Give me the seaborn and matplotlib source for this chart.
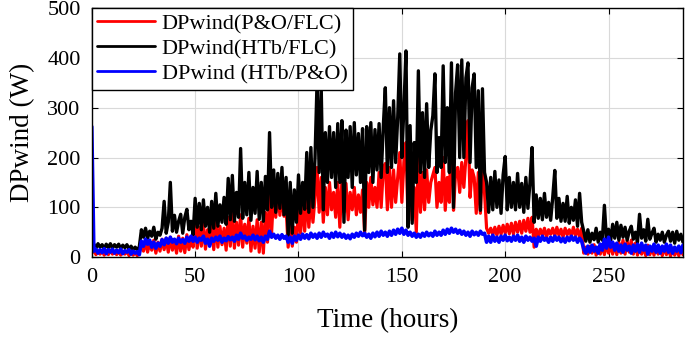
import matplotlib
matplotlib.use("Agg")
import matplotlib.pyplot as plt
import pandas as pd
import seaborn as sns

sns.set_theme(style="whitegrid")
plt.rcParams["font.family"] = ["Liberation Serif", "DejaVu Serif"]

HOURS = list(range(289))

# DPwind(P&O/FLC), one reading per hour
PO_FLC = [
    8, 14, 5, 12, 6, 13, 4, 12, 5, 14, 6, 11,
    5, 12, 4, 11, 6, 12, 3, 10, 4, 9, 3, 8,
    30, 12, 32, 10, 28, 14, 34, 8, 30, 12, 36, 15,
    38, 10, 40, 14, 35, 8, 42, 12, 38, 9, 45, 15,
    40, 20, 85, 18, 60, 22, 68, 16, 55, 24, 65, 15,
    72, 20, 62, 25, 58, 14, 80, 22, 88, 18, 70, 24,
    85, 20, 66, 28, 78, 12, 62, 18, 75, 10, 70, 8,
    90, 30, 124, 50, 130, 80, 140, 84, 120, 82, 100, 20,
    70, 22, 60, 30, 95, 48, 110, 52, 130, 60, 120, 70,
    120, 180, 90, 160, 70, 140, 85, 150, 95, 130, 80, 150,
    60, 154, 90, 148, 75, 130, 95, 140, 85, 125, 90, 135,
    48, 150, 100, 160, 105, 140, 100, 170, 100, 175, 188, 95,
    180, 100, 175, 110, 160, 210, 110, 190, 230, 70, 160, 74,
    140, 50, 200, 90, 170, 95, 175, 110, 150, 165, 180, 100,
    150, 110, 200, 94, 160, 110, 288, 94, 170, 180, 130, 190,
    140, 200, 274, 120, 175, 160, 88, 170, 88, 180, 130, 58,
    48, 58, 45, 60, 44, 62, 46, 64, 48, 66, 47, 68,
    46, 70, 50, 72, 48, 74, 52, 78, 50, 80, 20, 56,
    42, 56, 44, 58, 40, 55, 46, 58, 42, 60, 44, 56,
    40, 58, 45, 55, 42, 60, 44, 56, 40, 58, 8, 20,
    6, 22, 8, 25, 4, 20, 6, 24, 5, 28, 8, 24,
    6, 26, 5, 30, 8, 34, 6, 32, 10, 34, 6, 28,
    4, 22, 6, 20, 3, 24, 5, 18, 4, 20, 6, 18,
    3, 20, 5, 16, 2, 18, 4, 15, 3, 18, 5, 14,
    10,
]

# DPwind(HTb/FLC)
HTB_FLC = [
    22, 26, 18, 27, 20, 25, 17, 26, 19, 27, 18, 25,
    20, 26, 17, 24, 19, 25, 16, 22, 15, 20, 14, 21,
    55, 40, 58, 38, 52, 42, 60, 36, 50, 44, 58, 112,
    48, 70, 150, 52, 84, 50, 72, 86, 48, 80, 96, 55,
    72, 45, 118, 60, 108, 55, 115, 62, 100, 50, 112, 58,
    128, 62, 105, 70, 120, 66, 158, 75, 164, 72, 130, 80,
    218, 78, 150, 85, 170, 74, 140, 88, 172, 76, 150, 72,
    162, 95, 250, 100, 175, 90, 168, 98, 180, 85, 160, 44,
    150, 48, 135, 70, 165, 88, 150, 96, 210, 90, 220, 100,
    200, 355, 170, 340, 95, 250, 150, 262, 160, 250, 140, 268,
    150, 274, 70, 255, 160, 262, 140, 270, 165, 248, 150, 258,
    54, 262, 170, 270, 150, 256, 175, 268, 160, 260, 340, 170,
    300, 180, 314, 190, 280, 408, 200, 300, 414, 60, 264, 68,
    230, 150, 374, 170, 290, 160, 308, 180, 254, 284, 368, 170,
    240, 180, 384, 190, 300, 170, 390, 100, 330, 386, 200, 396,
    200, 360, 390, 190, 340, 368, 180, 334, 94, 338, 170, 150,
    90, 160, 95, 172, 100, 155, 88, 165, 202, 95, 160, 100,
    150, 95, 168, 100, 148, 90, 160, 98, 150, 220, 70, 125,
    78, 118, 75, 128, 80, 110, 74, 120, 174, 78, 118, 72,
    108, 72, 122, 68, 100, 74, 115, 62, 128, 70, 52, 32,
    55, 30, 48, 35, 58, 30, 50, 34, 104, 36, 56, 32,
    66, 38, 70, 34, 64, 40, 60, 34, 52, 62, 36, 50,
    30, 86, 38, 55, 32, 76, 36, 48, 58, 30, 46, 34,
    50, 30, 44, 52, 32, 50, 28, 52, 34, 46, 30, 44,
    38,
]

# DPwind (HTb/P&O)
HTB_PO = [
    262, 12, 16, 8, 15, 9, 17, 7, 15, 10, 16, 8,
    14, 9, 16, 7, 13, 10, 15, 6, 12, 8, 11, 5,
    32, 22, 36, 26, 34, 20, 30, 18, 28, 22, 35, 25,
    38, 28, 40, 30, 36, 27, 38, 30, 35, 28, 40, 32,
    42, 32, 40, 30, 38, 34, 42, 28, 36, 22, 38, 32,
    40, 34, 42, 30, 38, 33, 41, 35, 40, 32, 44, 36,
    48, 38, 42, 34, 40, 36, 44, 35, 42, 33, 40, 30,
    42, 36, 52, 40, 46, 38, 44, 36, 45, 38, 42, 30,
    40, 28, 42, 34, 44, 36, 46, 38, 45, 37, 48, 40,
    46, 38, 48, 40, 50, 42, 46, 38, 48, 40, 50, 41,
    48, 40, 46, 38, 44, 37, 46, 40, 48, 42, 50, 43,
    48, 40, 46, 38, 48, 41, 50, 42, 52, 44, 50, 42,
    52, 44, 54, 46, 56, 48, 58, 46, 54, 44, 50, 42,
    48, 40, 46, 40, 48, 42, 50, 43, 48, 42, 52, 44,
    50, 44, 54, 46, 56, 48, 58, 50, 56, 48, 54, 46,
    52, 44, 50, 42, 52, 45, 50, 44, 52, 46, 48, 30,
    42, 30, 44, 32, 40, 30, 42, 34, 44, 33, 40, 32,
    42, 34, 44, 32, 40, 30, 42, 34, 40, 32, 38, 22,
    40, 32, 42, 34, 38, 30, 40, 32, 42, 34, 40, 31,
    38, 30, 40, 33, 42, 34, 40, 30, 38, 32, 16, 8,
    22, 10, 24, 12, 20, 8, 26, 14, 36, 18, 40, 20,
    30, 14, 28, 12, 24, 10, 26, 14, 22, 8, 24, 12,
    26, 10, 28, 14, 24, 6, 22, 12, 26, 10, 24, 8,
    22, 12, 26, 10, 24, 8, 20, 12, 22, 9, 24, 10,
    18,
]

assert len(PO_FLC) == len(HTB_FLC) == len(HTB_PO) == len(HOURS)

df = pd.DataFrame({
    "hours": HOURS,
    "po_flc": PO_FLC,
    "htb_flc": HTB_FLC,
    "htb_po": HTB_PO,
})

fig = plt.figure(figsize=(6.85, 3.37), dpi=100)
ax = fig.add_axes([0.134, 0.237, 0.863, 0.739])

sns.lineplot(data=df, x="hours", y="po_flc", color="#ff0000", linewidth=2.3,
             label="DPwind(P&O/FLC)", ax=ax, estimator=None, sort=False)
sns.lineplot(data=df, x="hours", y="htb_flc", color="black", linewidth=2.4,
             label="DPwind(HTb/FLC)", ax=ax, estimator=None, sort=False)
sns.lineplot(data=df, x="hours", y="htb_po", color="#0000ff", linewidth=2.6,
             label="DPwind (HTb/P&O)", ax=ax, estimator=None, sort=False)

ax.set_xlim(0, 286)
ax.set_ylim(0, 500)
ax.set_xticks([0, 50, 100, 150, 200, 250])
ax.set_yticks([0, 100, 200, 300, 400, 500])
ax.set_xlabel("Time (hours)", fontsize=19.5, color="black", labelpad=15)
ax.set_ylabel("DPwind (W)", fontsize=19.5, color="black", labelpad=9)
ax.tick_params(direction="in", length=4, width=0.8, colors="black",
               labelsize=16, top=True, right=True, bottom=True, left=True, pad=8)
ax.grid(True, color="#d9d9d9", linewidth=0.8)
for s in ax.spines.values():
    s.set_color("black")
    s.set_linewidth(1.0)

leg = ax.legend(loc="upper left", borderaxespad=0, fancybox=False,
                edgecolor="black", framealpha=1, fontsize=16,
                handlelength=2.6, handletextpad=0.3, labelspacing=0.2,
                borderpad=0.25)
leg.get_frame().set_linewidth(1.0)
for line in leg.get_lines():
    line.set_linewidth(2.0)
for t in leg.get_texts():
    t.set_color("black")

fig.savefig("out.png", dpi=100)
